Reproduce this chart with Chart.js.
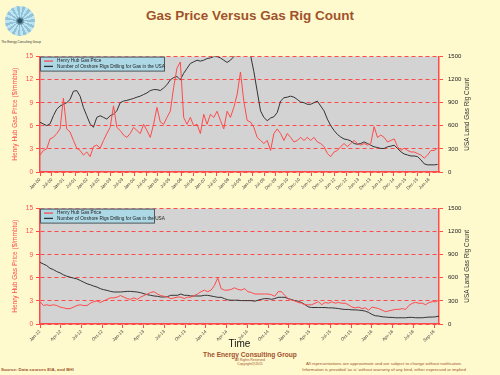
<!DOCTYPE html>
<html>
<head>
<meta charset="utf-8">
<script src="https://cdn.jsdelivr.net/npm/chart.js@4.4.0/dist/chart.umd.min.js"></script>
<style>
html, body { margin: 0; padding: 0; }
body {
    width: 500px; height: 375px; position: relative; overflow: hidden;
    background: #fffacd; font-family: "Liberation Sans", Arial, sans-serif;
}
.abs { position: absolute; }
#logo {
    left: 5px; top: 6px; width: 30px; height: 30px; border-radius: 50%;
    background: radial-gradient(circle, #2d4f63 0 8%, transparent 22%),
                repeating-conic-gradient(from 10deg, #8fc3da 0deg 12deg, #bfe3f0 12deg 24deg);
}
#logoText { left: 0; top: 40px; width: 42px; text-align: center; font-size: 3px; color: #333; }
#title { left: 0; top: 8px; width: 500px; text-align: center; font-size: 13.5px; font-weight: bold; color: #a0522d; }
#topWrap { left: 0; top: 48px; }
#bottomWrap { left: 0; top: 200px; }
#company { left: 0; top: 351px; width: 500px; text-align: center; font-size: 6.6px; font-weight: bold; color: #a0522d; }
#rights { left: 0; top: 359px; width: 500px; text-align: center; font-size: 3.4px; line-height: 3.6px; color: #a0522d; }
#source { left: 1px; top: 367px; font-size: 4.4px; font-weight: bold; color: #a0522d; }
#disclaimer { left: 270px; top: 361px; width: 228px; text-align: center; font-size: 4.3px; line-height: 6px; color: #a0522d; }
</style>
</head>
<body>
<div id="logo" class="abs"></div>
<div id="logoText" class="abs">The Energy Consulting Group</div>
<div id="title" class="abs">Gas Price Versus Gas Rig Count</div>
<div id="topWrap" class="abs"><canvas id="topChart" width="500" height="152"></canvas></div>
<div id="bottomWrap" class="abs"><canvas id="bottomChart" width="500" height="150"></canvas></div>
<div id="company" class="abs">The Energy Consulting Group</div>
<div id="rights" class="abs">All Rights Reserved<br>Copyright@2015</div>
<div id="source" class="abs">Source: Data sources EIA, and BHI</div>
<div id="disclaimer" class="abs">All representations are approximate and are subject to change without notification.<br>Information is provided 'as is' without warranty of any kind, either expressed or implied</div>

<script>
// Top panel: Jan-2000 onwards, one reading every ~1.7 months
const topStepMonths = 1.7;
const topPrice = [2.2, 2.8, 3.0, 4.3, 4.5, 5.0, 5.6, 9.6, 5.6, 5.2, 4.1, 3.1, 2.8, 2.2, 2.6, 2.0, 3.3, 3.5, 3.1, 4.1,
    5.0, 5.8, 8.6, 5.8, 5.4, 4.8, 4.5, 5.0, 5.8, 5.4, 5.0, 6.2, 5.4, 4.5, 6.2, 8.4, 6.5, 6.2, 7.1, 7.9,
    11.0, 13.5, 14.3, 7.1, 6.2, 7.1, 6.0, 6.2, 5.0, 7.5, 6.2, 7.5, 7.1, 7.9, 6.7, 5.6, 7.9, 7.1, 8.4, 10.1,
    13.0, 9.2, 6.7, 6.5, 5.8, 4.5, 4.1, 3.7, 4.1, 2.8, 5.0, 5.6, 5.0, 4.1, 5.0, 4.5, 3.9, 4.1, 4.5, 4.1,
    4.5, 4.1, 4.5, 3.9, 3.7, 3.3, 2.4, 2.0, 2.6, 2.8, 3.3, 3.7, 3.3, 3.7, 4.1, 3.7, 3.5, 3.7, 3.5, 3.7,
    5.9, 4.5, 4.8, 4.5, 3.9, 4.1, 4.3, 3.3, 2.8, 3.1, 2.8, 2.6, 2.6, 2.4, 2.2, 1.8, 2.2, 2.8, 2.8, 3.1];
const topRigs = [646, 625, 603, 625, 731, 816, 858, 880, 901, 943, 1050, 1058, 986, 837, 731, 625, 582, 710, 731, 710,
    688, 731, 752, 795, 901, 922, 931, 943, 956, 973, 986, 1007, 1028, 1058, 1071, 1071, 1058, 1092, 1135, 1198,
    1228, 1241, 1198, 1283, 1347, 1411, 1432, 1453, 1441, 1453, 1475, 1483, 1500, 1500, 1483, 1453, 1424, 1453, 1500, 1517,
    1540, 1560, 1580, 1520, 1305, 1050, 795, 710, 667, 701, 718, 773, 922, 965, 973, 986, 973, 943, 909, 901,
    880, 880, 901, 922, 858, 795, 688, 603, 540, 489, 455, 429, 421, 404, 370, 361, 370, 391, 370, 348,
    327, 319, 306, 306, 327, 336, 348, 306, 263, 234, 221, 208, 208, 200, 157, 106, 93, 93, 93, 98];
const topTicks = ['Jan-00', 'Jul-00', 'Jan-01', 'Jul-01', 'Jan-02', 'Jul-02', 'Jan-03', 'Jul-03', 'Jan-04', 'Jul-04',
    'Jan-05', 'Jul-05', 'Jan-06', 'Jul-06', 'Jan-07', 'Jul-07', 'Jan-08', 'Jul-08', 'Jan-09', 'Jul-09',
    'Dec-09', 'Jun-10', 'Dec-10', 'Jun-11', 'Dec-11', 'Jun-12', 'Dec-12', 'Jun-13', 'Dec-13', 'Jun-14',
    'Dec-14', 'Jun-15', 'Dec-15', 'Jun-16'];

// Bottom panel: Jan-2012 onwards, one reading about every two weeks
const bottomStepMonths = 0.485;
const bottomPrice = [2.9, 2.4, 2.5, 2.4, 2.5, 2.4, 2.2, 2.1, 2.0, 2.0, 2.2, 2.4, 2.5, 2.4, 2.4, 2.7, 2.9, 3.0, 2.8, 3.0,
    3.2, 3.4, 3.4, 3.5, 3.7, 3.5, 3.3, 3.2, 3.4, 3.2, 3.5, 3.7, 3.9, 4.1, 4.2, 3.9, 3.7, 3.6, 3.5, 3.3,
    3.4, 3.5, 3.5, 3.3, 3.5, 3.5, 3.7, 3.9, 4.2, 4.4, 4.2, 4.4, 5.0, 6.0, 4.6, 4.4, 4.4, 4.5, 4.7, 4.5,
    4.4, 4.6, 4.2, 4.1, 3.9, 3.9, 3.9, 3.9, 3.9, 3.8, 3.6, 4.2, 4.2, 3.7, 3.3, 3.1, 3.0, 2.8, 2.7, 2.5,
    2.5, 2.5, 2.7, 2.9, 2.5, 2.8, 2.7, 2.9, 2.7, 2.8, 2.7, 2.7, 2.5, 2.2, 2.1, 2.2, 2.0, 2.1, 1.8, 2.2,
    2.1, 2.0, 1.8, 1.6, 1.7, 1.8, 1.9, 1.9, 2.0, 1.9, 2.4, 2.7, 2.8, 2.7, 2.7, 2.5, 2.8, 2.9, 2.9, 3.1];
const bottomRigs = [801, 780, 759, 724, 707, 681, 664, 639, 621, 609, 596, 587, 566, 544, 523, 510, 493, 480, 459, 446,
    437, 424, 416, 416, 416, 420, 424, 424, 420, 416, 407, 394, 381, 373, 364, 360, 351, 351, 356, 373,
    373, 373, 390, 373, 373, 364, 364, 364, 364, 373, 373, 364, 356, 347, 347, 330, 313, 309, 309, 309,
    304, 304, 304, 304, 296, 309, 321, 330, 330, 321, 330, 347, 347, 347, 330, 317, 304, 296, 279, 253,
    223, 214, 214, 214, 214, 214, 210, 210, 206, 201, 193, 189, 189, 184, 184, 180, 176, 167, 150, 124,
    107, 103, 94, 90, 86, 86, 81, 81, 81, 81, 86, 86, 81, 81, 81, 86, 90, 90, 94, 103];
const bottomTicks = ['Jan-12', 'Apr-12', 'Jul-12', 'Oct-12', 'Jan-13', 'Apr-13', 'Jul-13', 'Oct-13', 'Jan-14', 'Apr-14',
    'Jul-14', 'Oct-14', 'Jan-15', 'Apr-15', 'Jul-15', 'Oct-15', 'Jan-16', 'Apr-16', 'Jul-16', 'Sep-16'];

const priceLabel = 'Henry Hub Gas Price';
const rigLabel = 'Number of Onshore Rigs Drilling for Gas in the USA';

const RED = '#ff4a4a';
const FONT = '"Liberation Sans", Arial, sans-serif';

// grey plot area
const plotBackground = {
    id: 'plotBackground',
    beforeDraw(chart) {
        const {ctx, chartArea: a} = chart;
        ctx.save();
        ctx.fillStyle = '#d3d3d3';
        ctx.fillRect(a.left, a.top, a.right - a.left, a.bottom - a.top);
        ctx.restore();
    }
};

// light blue legend box in the top-left corner of the plot
const legendBox = {
    id: 'legendBox',
    afterDatasetsDraw(chart, args, opts) {
        const {ctx, chartArea: a} = chart;
        ctx.save();
        ctx.fillStyle = '#add8e6';
        ctx.fillRect(a.left, a.top, opts.width, opts.height);
        ctx.strokeStyle = '#555';
        ctx.lineWidth = 1;
        ctx.strokeRect(a.left + 0.5, a.top + 0.5, opts.width - 1, opts.height - 1);
        ctx.font = '4.7px ' + FONT;
        ctx.textBaseline = 'middle';
        chart.data.datasets.forEach((ds, i) => {
            const y = a.top + 4.5 + i * 5.3;
            ctx.strokeStyle = ds.borderColor;
            ctx.lineWidth = 1.3;
            ctx.beginPath();
            ctx.moveTo(a.left + 4, y);
            ctx.lineTo(a.left + 13, y);
            ctx.stroke();
            ctx.fillStyle = '#222';
            ctx.fillText(ds.label, a.left + 17, y);
        });
        ctx.restore();
    }
};

// right axis title, reading bottom to top like the left one
const rightTitle = {
    id: 'rightTitle',
    afterDraw(chart, args, opts) {
        const {ctx, chartArea: a} = chart;
        ctx.save();
        ctx.translate(opts.x, (a.top + a.bottom) / 2);
        ctx.rotate(-Math.PI / 2);
        ctx.font = '6.4px ' + FONT;
        ctx.fillStyle = '#333';
        ctx.textAlign = 'center';
        ctx.textBaseline = 'middle';
        ctx.fillText(opts.text, 0, 0);
        ctx.restore();
    }
};

function makeChart(canvasId, price, rigs, step, ticks, tickMonths, xMax, opts) {
    return new Chart(document.getElementById(canvasId), {
        type: 'line',
        data: {
            datasets: [{
                label: priceLabel,
                data: price.map((v, i) => ({x: i * step, y: v})),
                borderColor: RED,
                borderWidth: 1,
                pointRadius: 0,
                yAxisID: 'y'
            }, {
                label: rigLabel,
                data: rigs.map((v, i) => ({x: i * step, y: v})),
                borderColor: '#333333',
                borderWidth: 1,
                pointRadius: 0,
                yAxisID: 'y1'
            }]
        },
        options: {
            responsive: false,
            animation: false,
            layout: {padding: {top: 7, left: 0, right: 0, bottom: 0}},
            plugins: {
                legend: {display: false},
                tooltip: {enabled: false},
                legendBox: {width: opts.legendWidth, height: 15},
                rightTitle: {text: 'USA Land Gas Rig Count', x: 467}
            },
            scales: {
                x: {
                    type: 'linear',
                    min: 0,
                    max: xMax,
                    afterFit: s => { s.height = opts.xHeight; },
                    afterBuildTicks: s => { s.ticks = ticks.map((t, i) => ({value: i * tickMonths})); },
                    ticks: {
                        autoSkip: false,
                        minRotation: 45,
                        maxRotation: 45,
                        padding: 1,
                        color: '#444',
                        font: {size: 4.5, family: FONT},
                        callback: (v, i) => ticks[i]
                    },
                    grid: {drawOnChartArea: false, color: RED, tickLength: 4},
                    border: {color: RED, width: 1.5},
                    title: {
                        display: !!opts.xTitle,
                        text: opts.xTitle || '',
                        color: '#111',
                        font: {size: 10, family: FONT},
                        padding: 0
                    }
                },
                y: {
                    position: 'left',
                    min: 0,
                    max: 15,
                    afterFit: s => { s.width = 40; },
                    ticks: {stepSize: 3, padding: 3, color: RED, font: {size: 6.5, family: FONT}},
                    grid: {color: RED, tickLength: 4, lineWidth: 1},
                    border: {color: RED, width: 1.5, dash: [4, 3]},
                    title: {
                        display: true,
                        text: 'Henry Hub Gas Price ($/mmbtu)',
                        color: RED,
                        font: {size: 6.5, family: FONT},
                        padding: {top: 11, bottom: 0}
                    }
                },
                y1: {
                    position: 'right',
                    min: 0,
                    max: 1500,
                    afterFit: s => { s.width = 61; },
                    ticks: {
                        stepSize: 300,
                        padding: 5,
                        color: '#222',
                        font: {size: 6, family: FONT},
                        callback: v => String(v)
                    },
                    grid: {drawOnChartArea: false, color: RED, tickLength: 4},
                    border: {color: RED, width: 1.5}
                }
            }
        },
        plugins: [plotBackground, legendBox, rightTitle]
    });
}

makeChart('topChart', topPrice, topRigs, topStepMonths, topTicks, 6, 203,
    {legendWidth: 125, xHeight: 28});
makeChart('bottomChart', bottomPrice, bottomRigs, bottomStepMonths, bottomTicks, 3, 57.7,
    {legendWidth: 115, xHeight: 26, xTitle: 'Time'});
</script>
</body>
</html>
